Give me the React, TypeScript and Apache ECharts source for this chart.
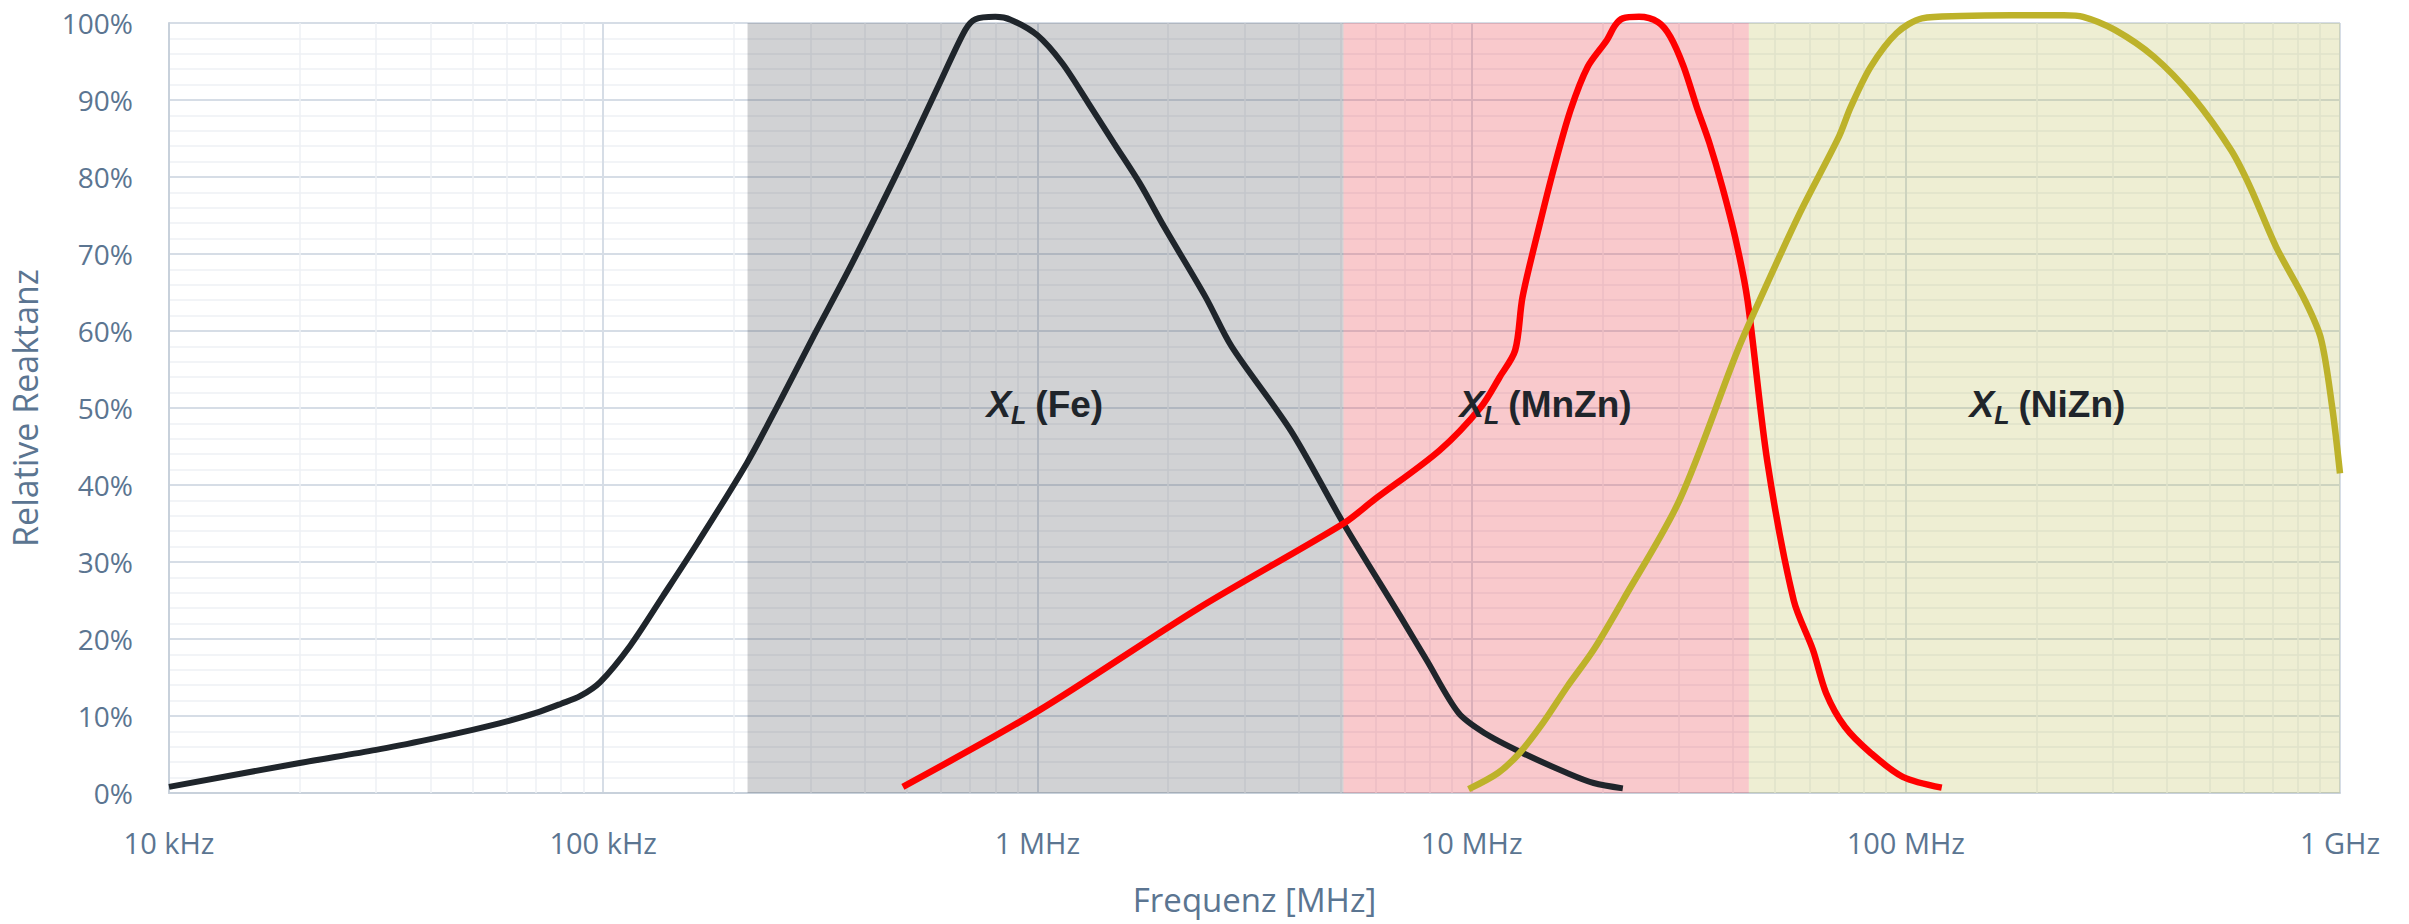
import React, { useEffect, useRef } from 'react';
import * as echarts from 'echarts';

// Frequency in MHz, relative reactance in %
const X_TICK_LABELS = ['10 kHz', '100 kHz', '1 MHz', '10 MHz', '100 MHz', '1 GHz'];

const FE: number[][] = [
  [0.01, 0.8], [0.02, 3.9], [0.03, 5.6], [0.04, 7.0], [0.05, 8.2], [0.06, 9.3], [0.07, 10.4],
  [0.08, 11.6], [0.0886, 12.6], [0.0984, 14.4], [0.1153, 19.1], [0.1374, 25.6], [0.165, 32.5],
  [0.215, 43], [0.256, 51], [0.305, 59.3], [0.365, 67.6], [0.432, 75.8], [0.507, 83.8],
  [0.597, 92.3], [0.682, 99.1], [0.72, 100.5], [0.8, 100.8], [0.87, 100.4],
  [1.0, 98.4], [1.14, 94.8], [1.31, 89.6], [1.5, 84.4], [1.72, 79.2], [1.96, 73.5], [2.44, 64.4],
  [2.8, 58], [3.84, 47], [5.07, 35], [6.86, 22.9], [7.87, 17.3], [9.33, 10.4], [10.7, 7.8],
  [13.1, 5.2], [16.6, 2.6], [19.1, 1.3], [22.3, 0.6],
];

const MNZN: number[][] = [
  [0.49, 0.8], [1.0, 10.6], [2.35, 24], [5.07, 35], [5.94, 38], [8.44, 44.5], [10.5, 50.1],
  [11.6, 54], [12.6, 57.5], [13.1, 64.4], [14.3, 73.5], [15.5, 81.3], [16.9, 88.7], [18.5, 94.3],
  [20.5, 97.8], [21.4, 99.7], [22.3, 100.6], [24.3, 100.8], [26.9, 100.1], [28.7, 98.2], [30.8, 94.3],
  [33.0, 89.1], [35.3, 84.4], [37.8, 78.7], [40.6, 71.8], [43.2, 64], [48, 43], [55.2, 25],
  [61.1, 18.6], [65.5, 13], [72.4, 8.6], [83, 5.2], [98.4, 2.1], [121, 0.7],
];

const NIZN: number[][] = [
  [9.84, 0.5], [11.5, 2.6], [12.9, 5.2], [14.6, 9.1], [16.6, 13.8], [19.1, 18.6], [22.3, 25],
  [30.1, 38], [41.0, 57.5], [46.4, 64.4], [57, 75.3], [70.1, 85.2], [74.7, 89.1], [83, 94.3],
  [95.3, 98.7], [109, 100.6], [134, 100.9], [175, 101], [231, 101], [256, 100.8], [303, 99.1],
  [373, 95.6], [458, 90.4], [561, 83.5], [621, 78.7], [713, 70.9], [830, 64], [904, 59],
  [960, 50], [1000, 41.5],
];

// Material ranges (MHz)
const BAND_FE = [0.215, 5.07];
const BAND_MNZN = [5.07, 43.5];
const BAND_NIZN = [43.5, 1000];

const LABEL_NAMES = ['Fe', 'MnZn', 'NiZn'];
const LABEL_FREQ = [1.04, 14.8, 212];
const LABEL_PCT = [50, 50, 50];

const TEXT_COLOR = '#5b7591';
const DARK = '#1f252b';

export default function App() {
  const ref = useRef<HTMLDivElement>(null);

  useEffect(() => {
    const chart = echarts.init(ref.current!, null, { renderer: 'svg' });

    const minorX: { xAxis: number }[] = [];
    [0.01, 0.1, 1, 10, 100].forEach((d) => {
      for (let k = 2; k <= 9; k++) minorX.push({ xAxis: +(d * k).toPrecision(3) });
    });

    const labelFont = {
      fontFamily: '"Liberation Sans", Arial, sans-serif',
      fontWeight: 'bold' as const,
      color: DARK,
    };

    const band = (range: number[], color: string) => [
      { xAxis: range[0], itemStyle: { color } },
      { xAxis: range[1] },
    ];

    const option: any = {
      animation: false,
      backgroundColor: '#ffffff',
      grid: { left: 169, right: 69, top: 23, bottom: 131, containLabel: false },
      xAxis: {
        type: 'log',
        logBase: 10,
        min: 0.01,
        max: 1000,
        splitNumber: 5,
        name: 'Frequenz [MHz]',
        nameLocation: 'middle',
        nameGap: 90,
        nameTextStyle: { fontFamily: '"Open Sans", sans-serif', fontSize: 33, color: TEXT_COLOR },
        axisLine: { show: true, lineStyle: { color: '#c8d1db', width: 2 } },
        axisTick: { show: false },
        axisLabel: {
          margin: 35,
          fontFamily: '"Open Sans", sans-serif',
          fontSize: 29,
          color: TEXT_COLOR,
          formatter: (v: number) => X_TICK_LABELS[Math.round(Math.log10(v)) + 2] ?? '',
        },
        splitLine: { show: true, lineStyle: { color: '#d6dde6', width: 2 } },
      },
      yAxis: {
        type: 'value',
        min: 0,
        max: 100,
        interval: 10,
        name: 'Relative Reaktanz',
        nameLocation: 'middle',
        nameGap: 127,
        nameTextStyle: { fontFamily: '"Open Sans", sans-serif', fontSize: 34, color: TEXT_COLOR },
        axisLine: { show: true, lineStyle: { color: '#c8d1db', width: 2 } },
        axisTick: { show: false },
        axisLabel: {
          margin: 36,
          fontFamily: '"Open Sans", sans-serif',
          fontSize: 28,
          color: TEXT_COLOR,
          formatter: '{value}%',
        },
        splitLine: { show: true, lineStyle: { color: '#d6dde6', width: 2 } },
        minorTick: { show: false, splitNumber: 5 },
        minorSplitLine: { show: true, lineStyle: { color: '#eef0f4', width: 1.5 } },
      },
      series: [
        {
          name: 'minor-grid',
          type: 'line',
          data: [],
          silent: true,
          z: 1,
          markLine: {
            silent: true,
            z: 1,
            symbol: ['none', 'none'],
            label: { show: false },
            lineStyle: { type: 'solid', color: '#eef0f4', width: 1.5 },
            data: minorX,
          },
        },
        {
          name: 'bands',
          type: 'line',
          data: [],
          silent: true,
          z: 2,
          markArea: {
            silent: true,
            z: 2,
            label: { show: false },
            data: [
              band(BAND_FE, 'rgba(40,45,55,0.214)'),
              band(BAND_MNZN, 'rgba(230,30,40,0.24)'),
              band(BAND_NIZN, 'rgba(170,170,40,0.205)'),
            ],
          },
        },
        {
          name: 'XL (Fe)',
          type: 'line',
          data: FE,
          smooth: 0.3,
          symbol: 'none',
          clip: false,
          z: 3,
          lineStyle: { color: DARK, width: 6 },
        },
        {
          name: 'XL (MnZn)',
          type: 'line',
          data: MNZN,
          smooth: 0.3,
          symbol: 'none',
          clip: false,
          z: 3,
          lineStyle: { color: '#ff0000', width: 6.5 },
        },
        {
          name: 'XL (NiZn)',
          type: 'line',
          data: NIZN,
          smooth: 0.3,
          symbol: 'none',
          clip: false,
          z: 3,
          lineStyle: { color: '#bdb22a', width: 6.5 },
        },
        {
          name: 'labels',
          type: 'line',
          data: [],
          silent: true,
          z: 5,
          markPoint: {
            silent: true,
            symbol: 'circle',
            symbolSize: 0,
            z: 6,
            data: LABEL_NAMES.map((n, i) => ({
              coord: [LABEL_FREQ[i], LABEL_PCT[i]],
              label: {
                show: true,
                position: 'inside',
                formatter: `{x|X}{l|L}{p|(${n})}`,
                rich: {
                  x: { ...labelFont, fontStyle: 'italic', fontSize: 37, lineHeight: 44, verticalAlign: 'top' },
                  l: { ...labelFont, fontStyle: 'italic', fontSize: 25, lineHeight: 30, padding: [16, 0, 0, 0], verticalAlign: 'top' },
                  p: { ...labelFont, fontSize: 37, lineHeight: 44, padding: [0, 0, 0, 9], verticalAlign: 'top' },
                },
              },
            })),
          },
        },
      ],
    };

    chart.setOption(option);
    return () => chart.dispose();
  }, []);

  return (
    <div
      ref={ref}
      style={{ position: 'fixed', left: 0, top: 0, width: 2409, height: 924, background: '#fff' }}
    />
  );
}
